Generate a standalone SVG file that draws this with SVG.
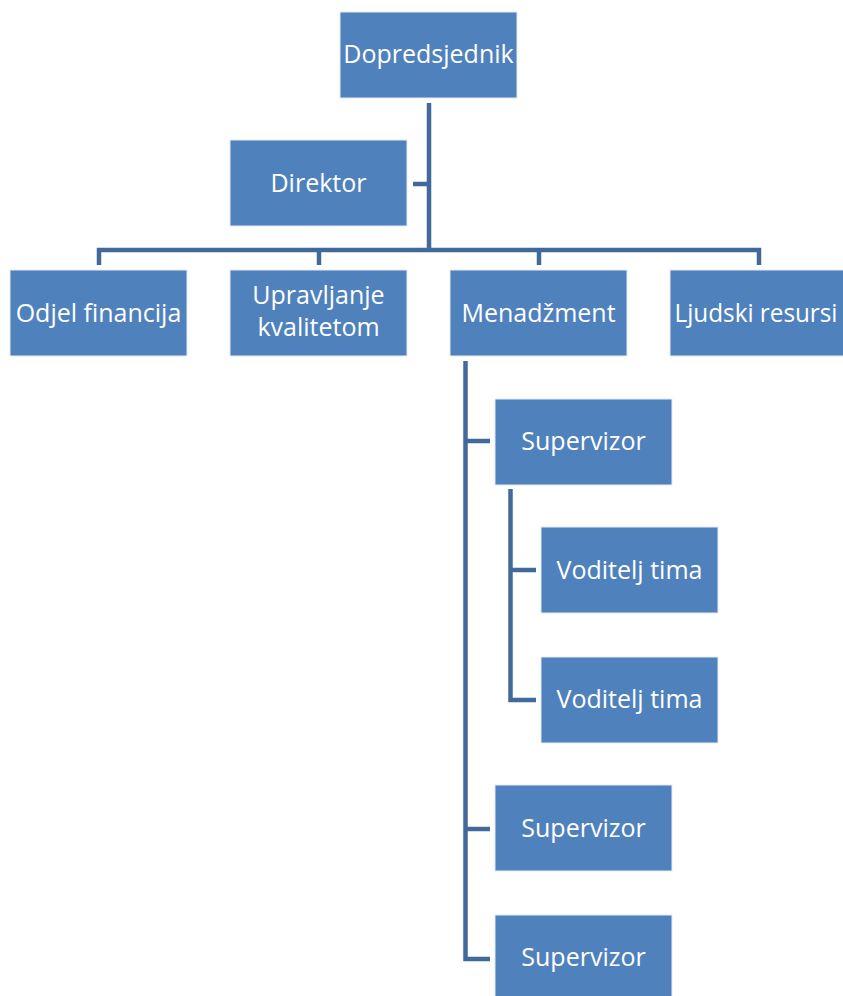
<svg xmlns="http://www.w3.org/2000/svg" width="843" height="996" viewBox="0 0 843 996">
<style>
.box{fill:#4F81BD;stroke:#E4ECF6;stroke-width:1}
.lbl{font-family:"Open Sans","Noto Sans","Liberation Sans",sans-serif;font-size:25px;fill:#FFFFFF;text-anchor:middle}
.con{fill:none;stroke:#41699A;stroke-width:4.5;stroke-linejoin:miter}
</style>
<rect width="843" height="996" fill="#FFFFFF"/>
<g id="connectors">
<path class="con" d="M429 103 V250"/>
<path class="con" d="M413 184 H429"/>
<path class="con" d="M99 265 V250 H759 V265"/>
<path class="con" d="M319 250 V265"/>
<path class="con" d="M539 250 V265"/>
<path class="con" d="M465.5 361 V959 H490"/>
<path class="con" d="M465.5 441 H490"/>
<path class="con" d="M465.5 829 H490"/>
<path class="con" d="M510.5 489 V700 H536"/>
<path class="con" d="M510.5 570 H536"/>
</g>
<g id="n-dopredsjednik"><rect class="box" x="340" y="12" width="177" height="86"/><text class="lbl" x="428.5" y="63">Dopredsjednik</text></g>
<g id="n-direktor"><rect class="box" x="230" y="140" width="177" height="86"/><text class="lbl" x="318.5" y="192">Direktor</text></g>
<g id="n-financije"><rect class="box" x="10" y="270" width="177" height="86"/><text class="lbl" x="98.5" y="322">Odjel financija</text></g>
<g id="n-kvaliteta"><rect class="box" x="230" y="270" width="177" height="86"/><text class="lbl" x="318.5" y="304">Upravljanje</text><text class="lbl" x="318.5" y="336">kvalitetom</text></g>
<g id="n-menadzment"><rect class="box" x="450" y="270" width="177" height="86"/><text class="lbl" x="538.5" y="322">Menadžment</text></g>
<g id="n-ljudski"><rect class="box" x="670" y="270" width="177" height="86"/><text class="lbl" x="756" y="322" textLength="163" lengthAdjust="spacingAndGlyphs">Ljudski resursi</text></g>
<g id="n-supervizor1"><rect class="box" x="495" y="399" width="177" height="86"/><text class="lbl" x="583.5" y="450">Supervizor</text></g>
<g id="n-voditelj1"><rect class="box" x="541" y="527" width="177" height="86"/><text class="lbl" x="629.5" y="579">Voditelj tima</text></g>
<g id="n-voditelj2"><rect class="box" x="541" y="657" width="177" height="86"/><text class="lbl" x="629.5" y="708">Voditelj tima</text></g>
<g id="n-supervizor2"><rect class="box" x="495" y="785" width="177" height="86"/><text class="lbl" x="583.5" y="837">Supervizor</text></g>
<g id="n-supervizor3"><rect class="box" x="495" y="915" width="177" height="86"/><text class="lbl" x="583.5" y="966">Supervizor</text></g>
</svg>
